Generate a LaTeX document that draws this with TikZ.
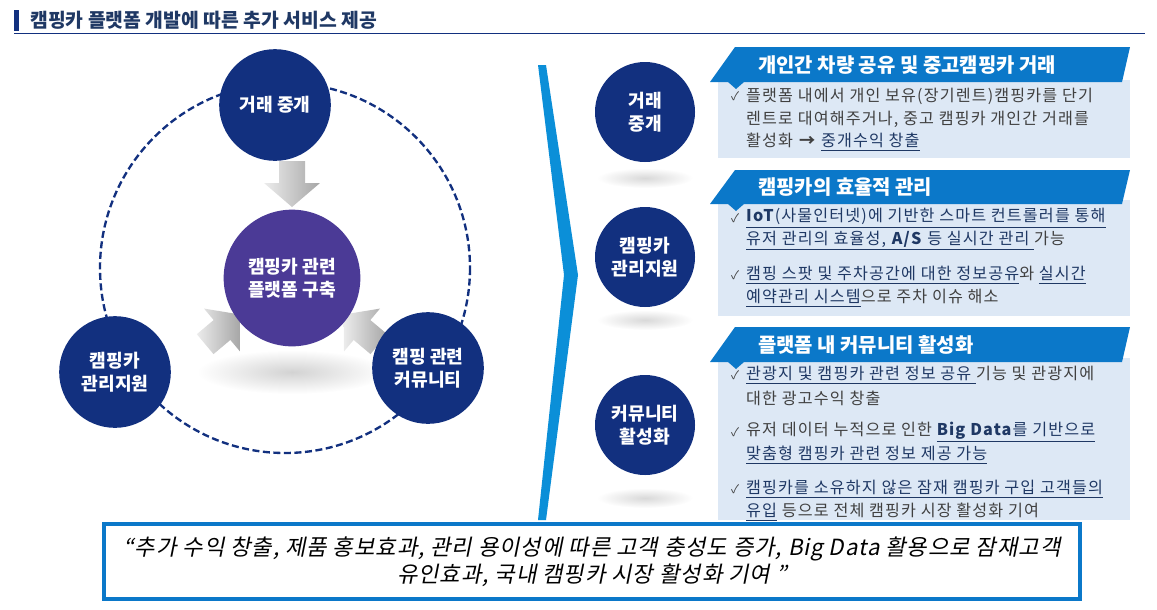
\documentclass[tikz,border=0pt]{standalone}
\usepackage{fontspec}
\setmainfont{Noto Sans CJK KR}
\newfontfamily\bodyfont[LetterSpace=7]{Noto Sans CJK KR}
\newfontfamily\slantfont[FakeSlant=0.2,LetterSpace=4]{Noto Sans CJK KR}
\usetikzlibrary{positioning}
\definecolor{navy}{HTML}{12307F}
\definecolor{deepblue}{HTML}{1F3864}
\definecolor{purpleC}{HTML}{4B3A96}
\definecolor{skyband}{HTML}{0B8FD8}
\definecolor{banner}{HTML}{0B78C9}
\definecolor{paleblue}{HTML}{DDE8F5}
\definecolor{textgray}{HTML}{404040}
\newcommand{\ulx}[1]{{\color{deepblue}\underline{#1}}}

\begin{document}
\begin{tikzpicture}[x=0.03cm, y=-0.03cm,
  hub/.style = {circle, fill=navy, text=white, font=\bfseries\fontsize{15.5}{20}\selectfont, align=center, minimum size=3.35cm, inner sep=0pt},
  side/.style = {circle, fill=navy, text=white, font=\bfseries\fontsize{15.5}{20}\selectfont, align=center, minimum size=3cm, inner sep=0pt},
  line/.style = {anchor=west, inner sep=0pt, text=textgray, font=\bodyfont\fontsize{13.8}{15}\selectfont},
  tick/.style = {anchor=west, inner sep=0pt, text=textgray, font=\fontsize{10}{11}\selectfont},
  head/.style = {anchor=west, inner sep=0pt, text=white, font=\bfseries\fontsize{17}{20}\selectfont}]
\useasboundingbox (0,0) rectangle (1157,609);

% title
\fill[navy] (14,10) rectangle (19,31);
\node[anchor=west, inner sep=0pt, text=deepblue, font=\bfseries\fontsize{16.5}{18}\selectfont] (title) at (30,20) {캠핑카 플랫폼 개발에 따른 추가 서비스 제공};
\draw[navy, line width=0.8pt] (14,33) -- (1145,33);

% left cycle
\draw[navy, line width=2pt, dash pattern=on 6pt off 3pt] (285,268) circle (185);
\shade[inner color=gray!35, outer color=white] (292,372) ellipse (95 and 22);
\foreach \px/\py/\ang in {292/183/-90, 222/330/40, 362/330/140}
  \shade[shift={(\px,\py)}, rotate=\ang, left color=gray!15, right color=gray!70]
    (-22,-13) -- (0,-13) -- (0,-28) -- (24,0) -- (0,28) -- (0,13) -- (-22,13) -- cycle;
\node[hub, fill=purpleC, minimum size=4.1cm] (platform) at (292,278) {캠핑카 관련\\플랫폼 구축};
\node[hub] (trade) at (275,105) {거래 중개};
\node[hub] (manage) at (115,372) {캠핑카\\관리지원};
\node[hub] (commu) at (428,368) {캠핑 관련\\커뮤니티};

% chevron
\fill[skyband] (538,65) -- (546,65) -- (578,275) -- (546,520) -- (538,520) -- (564,275) -- cycle;

% right circles
\foreach \yy in {178,320,498} \shade[inner color=gray!30, outer color=white] (645,\yy) ellipse (48 and 10);
\node[side] (s1) at (645,112) {거래\\중개};
\node[side] (s2) at (645,257) {캠핑카\\관리지원};
\node[side] (s3) at (645,425) {커뮤니티\\활성화};

% panels
\fill[paleblue] (718,80) rectangle (1130,158);
\fill[paleblue] (718,200) rectangle (1130,316);
\fill[paleblue] (718,358) rectangle (1130,520);
\foreach \ta/\tb in {47/82,170/204,327/362} {
  \fill[banner] (710,\tb) -- (735,\ta) -- (1130,\ta) -- (1122,\tb) -- cycle;
  \fill[banner] (728,\tb) -- (744,\tb) -- (736,\tb+7) -- cycle;
}
\node[head] (h1) at (758,65) {개인간 차량 공유 및 중고캠핑카 거래};
\node[head] (h2) at (758,187) {캠핑카의 효율적 관리};
\node[head] (h3) at (758,345) {플랫폼 내 커뮤니티 활성화};

\foreach \yy in {96,218,275,375,432,489} \node[tick] at (731,\yy) {✓};
\node[line] (l11) at (746,96) {플랫폼 내에서 개인 보유(장기렌트)캠핑카를 단기};
\node[line] (l12) at (746,119) {렌트로 대여해주거나, 중고 캠핑카 개인간 거래를};
\node[line] (l13) at (746,142) {활성화 \textbf{→} \ulx{중개수익 창출}};
\node[line] (l21) at (746,218) {\ulx{\textbf{IoT}(사물인터넷)에 기반한 스마트 컨트롤러를 통해}};
\node[line] (l22) at (746,241) {\ulx{유저 관리의 효율성, \textbf{A/S} 등 실시간 관리 }가능};
\node[line] (l23) at (746,275) {\ulx{캠핑 스팟 및 주차공간에 대한 정보공유}와 \ulx{실시간}};
\node[line] (l24) at (746,298) {\ulx{예약관리 시스템}으로 주차 이슈 해소};
\node[line] (l31) at (746,375) {\ulx{관광지 및 캠핑카 관련 정보 공유 }기능 및 관광지에};
\node[line] (l32) at (746,398) {대한 광고수익 창출};
\node[line] (l33) at (746,432) {유저 데이터 누적으로 인한 \ulx{\textbf{Big Data}를 기반으로}};
\node[line] (l34) at (746,455) {\ulx{맞춤형 캠핑카 관련 정보 제공 가능}};
\node[line] (l35) at (746,489) {\ulx{캠핑카를 소유하지 않은 잠재 캠핑카 구입 고객들의}};
\node[line] (l36) at (746,512) {\ulx{유입} 등으로 전체 캠핑카 시장 활성화 기여};

% conclusion
\draw[fill=white, draw=banner, line width=3.5pt] (104,524) rectangle (1080,599);
\node[align=center, font=\slantfont\fontsize{19}{23}\selectfont] (sum) at (592,562) {“추가 수익 창출, 제품 홍보효과, 관리 용이성에 따른 고객 충성도 증가, Big Data 활용으로 잠재고객\\유인효과, 국내 캠핑카 시장 활성화 기여 ”};
\end{tikzpicture}
\end{document}
